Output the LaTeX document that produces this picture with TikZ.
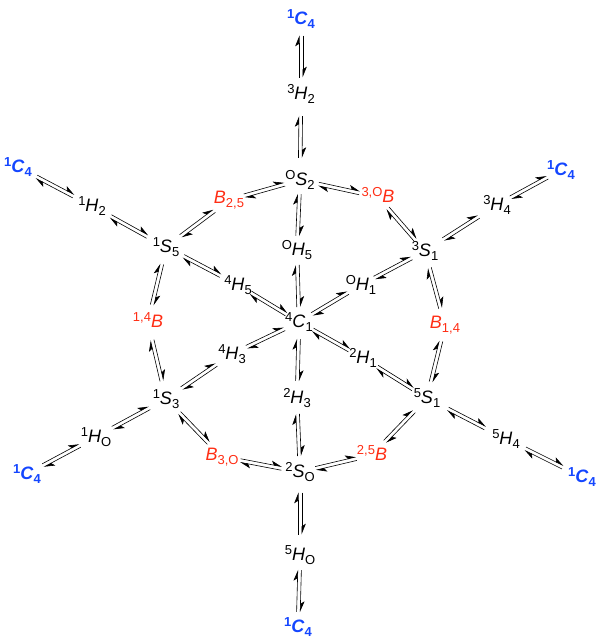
\documentclass[tikz,border=0pt]{standalone}
\usepackage{fontspec}
\setmainfont{Liberation Sans}
\usepackage{tikz}
\usetikzlibrary{calc}
\usetikzlibrary{arrows.meta}

\definecolor{chairblue}{RGB}{20,70,255}
\definecolor{boatred}{RGB}{255,45,20}

\newcommand\idx[1]{{\fontsize{13}{14}\selectfont #1}}
\newcommand\conf[3]{\raisebox{0.31em}{\idx{#1}}\textit{#2}\/\raisebox{-0.2em}{\idx{#3}}}
\newcommand\eqarr[2]{%
  \coordinate (m) at ($(#1)!0.5!(#2)$);
  \coordinate (p) at ($(m)!21pt!(#2)$);
  \coordinate (q) at ($(m)!21pt!(#1)$);
  \draw[halfarrow] ($(q)!1.8pt!90:(p)$) -- ($(p)!1.8pt!-90:(q)$);
  \draw[halfarrow] ($(p)!1.8pt!90:(q)$) -- ($(q)!1.8pt!-90:(p)$);
}

\begin{document}
\begin{tikzpicture}[x=1pt,y=-1pt,
  every node/.style={font=\fontsize{18}{22}\selectfont},
  chair/.style={text=chairblue,font=\fontsize{18}{22}\selectfont\bfseries},
  boat/.style={text=boatred},
  halfarrow/.style={line width=0.6pt,-{Stealth[harpoon,length=10pt,width=8pt,inset=2.5pt]}}]

\useasboundingbox (0,0) rectangle (600,641);

\node[chair] (C4t) at (301,19) {\conf{1}{C}{4}};
\node (H32) at (301,94) {\conf{3}{H}{2}};
\node (OS2) at (300,180) {\conf{O}{S}{2}};
\node (OH5) at (297,250) {\conf{O}{H}{5}};
\node (C41) at (299,322) {\conf{4}{C}{1}};
\node (H23) at (297,398) {\conf{2}{H}{3}};
\node (S2O) at (300,472) {\conf{2}{S}{O}};
\node (H5O) at (300,555) {\conf{5}{H}{O}};
\node[chair] (C4b) at (298,627) {\conf{1}{C}{4}};

\node[chair] (C4tl) at (18,167) {\conf{1}{C}{4}};
\node (H12) at (92,206) {\conf{1}{H}{2}};
\node (S15) at (166,247) {\conf{1}{S}{5}};
\node[boat] (B25) at (229,200) {\conf{}{B}{2,5}};
\node (H45) at (238,285) {\conf{4}{H}{5}};
\node[boat] (B14l) at (148,322) {\conf{1,4}{B}{}};
\node (H43) at (232,354) {\conf{4}{H}{3}};
\node (S13) at (166,399) {\conf{1}{S}{3}};
\node (H1O) at (96,437) {\conf{1}{H}{O}};
\node[chair] (C4bl) at (27,474) {\conf{1}{C}{4}};
\node[boat] (B3O) at (222,457) {\conf{}{B}{3,O}};

\node[boat] (B3Or) at (378,197) {\conf{3,O}{B}{}};
\node (H34) at (497,205) {\conf{3}{H}{4}};
\node[chair] (C4tr) at (561,170) {\conf{1}{C}{4}};
\node (S31) at (425,251) {\conf{3}{S}{1}};
\node (OH1) at (361,285) {\conf{O}{H}{1}};
\node[boat] (B14) at (445,325) {\conf{}{B}{1,4}};
\node (H21) at (363,358) {\conf{2}{H}{1}};
\node (S51) at (427,398) {\conf{5}{S}{1}};
\node (H54) at (506,439) {\conf{5}{H}{4}};
\node[chair] (C4br) at (582,477) {\conf{1}{C}{4}};
\node[boat] (B25r) at (372,455) {\conf{2,5}{B}{}};

\eqarr{C4t}{H32}
\eqarr{H32}{OS2}
\eqarr{OS2}{OH5}
\eqarr{OH5}{C41}
\eqarr{C41}{H23}
\eqarr{H23}{S2O}
\eqarr{S2O}{H5O}
\eqarr{H5O}{C4b}
\eqarr{OS2}{B25}
\eqarr{B25}{S15}
\eqarr{S15}{H12}
\eqarr{H12}{C4tl}
\eqarr{S15}{H45}
\eqarr{H45}{C41}
\eqarr{S15}{B14l}
\eqarr{B14l}{S13}
\eqarr{S13}{H43}
\eqarr{H43}{C41}
\eqarr{S13}{H1O}
\eqarr{H1O}{C4bl}
\eqarr{S13}{B3O}
\eqarr{B3O}{S2O}
\eqarr{S2O}{B25r}
\eqarr{B25r}{S51}
\eqarr{S51}{H21}
\eqarr{H21}{C41}
\eqarr{S51}{H54}
\eqarr{H54}{C4br}
\eqarr{S51}{B14}
\eqarr{B14}{S31}
\eqarr{S31}{OH1}
\eqarr{OH1}{C41}
\eqarr{S31}{H34}
\eqarr{H34}{C4tr}
\eqarr{S31}{B3Or}
\eqarr{B3Or}{OS2}
\end{tikzpicture}
\end{document}
